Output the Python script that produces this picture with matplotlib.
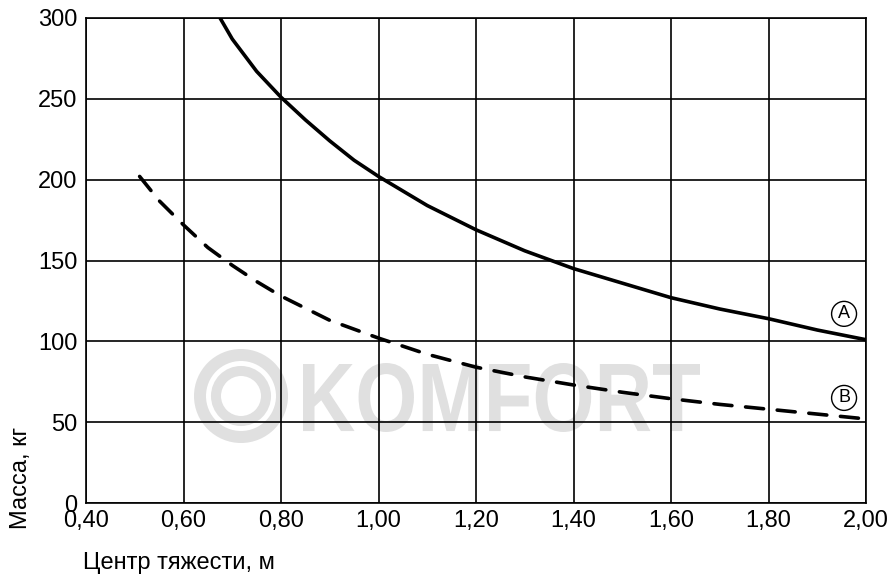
import matplotlib
matplotlib.use("Agg")
import matplotlib.pyplot as plt
from matplotlib.textpath import TextPath
from matplotlib.patches import PathPatch, Circle
from matplotlib.font_manager import FontProperties
from matplotlib.transforms import Affine2D

plt.rcParams["font.family"] = ["Liberation Sans", "DejaVu Sans"]

# кривая A (сплошная)
a_x = [0.675, 0.70, 0.725, 0.75, 0.775, 0.80, 0.85, 0.90, 0.95, 1.00, 1.10, 1.20, 1.30,
       1.40, 1.50, 1.60, 1.70, 1.80, 1.90, 2.00]
a_y = [300, 287, 277, 267, 259, 251, 237, 224, 212, 202, 184, 169, 156,
       145, 136, 127, 120, 114, 107, 101]
# кривая B (штриховая)
b_x = [0.51, 0.55, 0.60, 0.65, 0.70, 0.75, 0.80, 0.90, 1.00, 1.10, 1.20, 1.30, 1.40,
       1.50, 1.60, 1.70, 1.80, 1.90, 2.00]
b_y = [202, 187, 172, 158, 147, 137, 128, 113, 102, 92, 84, 78, 73,
       68.5, 64.5, 61, 58, 55, 52]

x_ticks = [0.40, 0.60, 0.80, 1.00, 1.20, 1.40, 1.60, 1.80, 2.00]
x_labels = ["0,40", "0,60", "0,80", "1,00", "1,20", "1,40", "1,60", "1,80", "2,00"]
y_ticks = [0, 50, 100, 150, 200, 250, 300]

W, H = 889, 575
fig = plt.figure(figsize=(W / 100, H / 100), dpi=100)
ax = fig.add_axes([86 / W, 1 - 503 / H, (866 - 86) / W, (503 - 18) / H])
ax.patch.set_alpha(0)

# водяной знак (под сеткой)
wm = "#e0e0e0"
cx, cy = 241 / 100, (H - 396) / 100
for r, w in [(41, 12), (25, 10)]:
    fig.patches.append(Circle((cx, cy), r / 100, fill=False, lw=w * 0.72, ec=wm,
                              transform=fig.dpi_scale_trans, zorder=-1))
tp = TextPath((0, 0), "KOMFORT", size=1, prop=FontProperties(family="Liberation Sans", weight="bold"))
ext = tp.get_extents()
sx = (700 - 303) / ext.width
sy = (432 - 363) / ext.height
tr = Affine2D().translate(-ext.x0, -ext.y0).scale(sx / 100, sy / 100).translate(303 / 100, (H - 432) / 100)
fig.patches.append(PathPatch(tp, fc=wm, ec="none", transform=tr + fig.dpi_scale_trans, zorder=-1))

ax.plot(a_x, a_y, "k-", lw=2.6, solid_capstyle="round", solid_joinstyle="round", zorder=3)
ax.plot(b_x, b_y, "k--", lw=2.6, dashes=(5, 3.8), dash_capstyle="round", zorder=3)

ax.set_xlim(0.40, 2.00)
ax.set_ylim(0, 300)
ax.set_xticks(x_ticks)
ax.set_xticklabels(x_labels)
ax.set_yticks(y_ticks)
ax.tick_params(length=0, labelsize=17, pad=6)
ax.tick_params(axis="x", pad=5)
ax.grid(True, color="black", lw=1.2)
for s in ax.spines.values():
    s.set_linewidth(1.2)

ax.text(1.955, 117, "A", fontsize=13, ha="center", va="center",
        bbox=dict(boxstyle="circle,pad=0.22", fc="white", ec="black", lw=1))
ax.text(1.955, 65, "B", fontsize=13, ha="center", va="center",
        bbox=dict(boxstyle="circle,pad=0.22", fc="white", ec="black", lw=1))

fig.text(21 / W, 1 - 478 / H, "Масса, кг", rotation=90, fontsize=17, ha="center", va="center")
fig.text(83 / W, 1 - 563 / H, "Центр тяжести, м", fontsize=17, ha="left", va="center")

fig.savefig("out.png", dpi=100)
